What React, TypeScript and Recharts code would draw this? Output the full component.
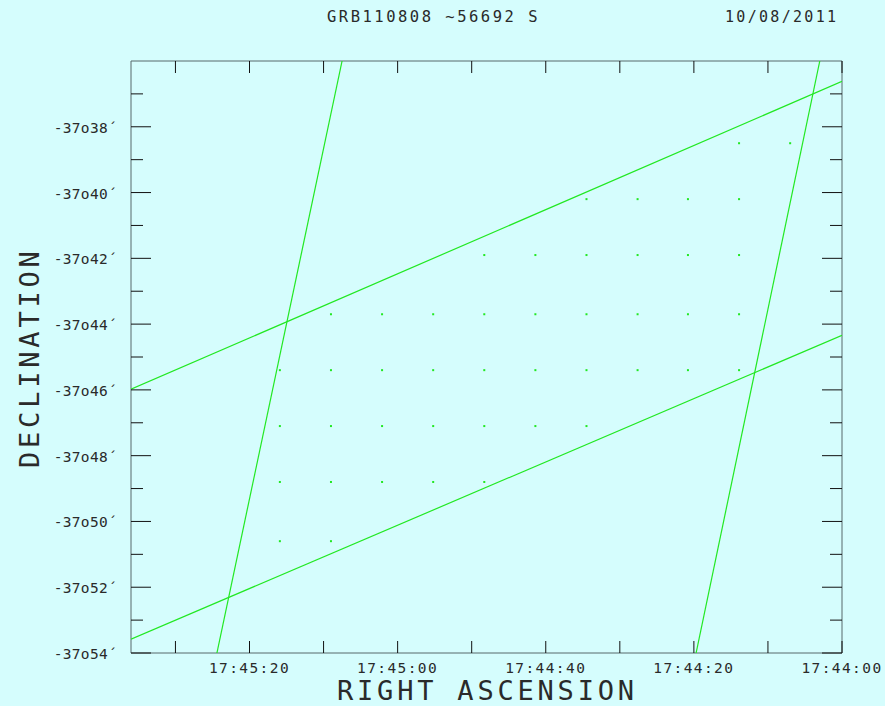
import { ScatterChart, Scatter, XAxis, YAxis } from "recharts";

// RA in seconds past 17:44:00, Dec in arcmin (value = -minutes below -37deg)
const raTicks = [0, 10, 20, 30, 40, 50, 60, 70, 80, 90];
const raLabels: Record<number, string> = {
  0: "17:44:00",
  20: "17:44:20",
  40: "17:44:40",
  60: "17:45:00",
  80: "17:45:20",
};
const decTicks = [-37, -38, -39, -40, -41, -42, -43, -44, -45, -46, -47, -48, -49, -50, -51, -52, -53, -54];
const decLabels: Record<number, string> = {
  [-38]: "-37o38´",
  [-40]: "-37o40´",
  [-42]: "-37o42´",
  [-44]: "-37o44´",
  [-46]: "-37o46´",
  [-48]: "-37o48´",
  [-50]: "-37o50´",
  [-52]: "-37o52´",
  [-54]: "-37o54´",
};

const lineA = [{ ra: 67.5, dec: -36 }, { ra: 84.4, dec: -54 }];
const lineB = [{ ra: 3.0, dec: -36 }, { ra: 19.7, dec: -54 }];
const lineC = [{ ra: 96, dec: -45.98 }, { ra: 0, dec: -36.62 }];
const lineD = [{ ra: 96, dec: -53.58 }, { ra: 0, dec: -44.34 }];

const dots = [
  { ra: 13.9, dec: -38.5 }, { ra: 7.0, dec: -38.5 },
  { ra: 34.5, dec: -40.2 }, { ra: 27.6, dec: -40.2 }, { ra: 20.8, dec: -40.2 }, { ra: 13.9, dec: -40.2 },
  { ra: 48.3, dec: -41.9 }, { ra: 41.4, dec: -41.9 }, { ra: 34.5, dec: -41.9 }, { ra: 27.6, dec: -41.9 },
  { ra: 20.8, dec: -41.9 }, { ra: 13.9, dec: -41.9 },
  { ra: 69.0, dec: -43.7 }, { ra: 62.1, dec: -43.7 }, { ra: 55.2, dec: -43.7 }, { ra: 48.3, dec: -43.7 },
  { ra: 41.4, dec: -43.7 }, { ra: 34.5, dec: -43.7 }, { ra: 27.6, dec: -43.7 }, { ra: 20.8, dec: -43.7 },
  { ra: 13.9, dec: -43.7 },
  { ra: 75.9, dec: -45.4 }, { ra: 69.0, dec: -45.4 }, { ra: 62.1, dec: -45.4 }, { ra: 55.2, dec: -45.4 },
  { ra: 48.3, dec: -45.4 }, { ra: 41.4, dec: -45.4 }, { ra: 34.5, dec: -45.4 }, { ra: 27.6, dec: -45.4 },
  { ra: 20.8, dec: -45.4 }, { ra: 13.9, dec: -45.4 },
  { ra: 75.9, dec: -47.1 }, { ra: 69.0, dec: -47.1 }, { ra: 62.1, dec: -47.1 }, { ra: 55.2, dec: -47.1 },
  { ra: 48.3, dec: -47.1 }, { ra: 41.4, dec: -47.1 }, { ra: 34.5, dec: -47.1 },
  { ra: 75.9, dec: -48.8 }, { ra: 69.0, dec: -48.8 }, { ra: 62.1, dec: -48.8 }, { ra: 55.2, dec: -48.8 },
  { ra: 48.3, dec: -48.8 },
  { ra: 75.9, dec: -50.6 }, { ra: 69.0, dec: -50.6 },
];

const GREEN = "#22e822";
const FRAME = "#56696a";
const INK = "#111";
const TEXT = "#2a2a2a";
const FONT = "DejaVu Sans Mono, monospace";

const BottomTick = ({ x, y, payload }: any) => (
  <g>
    <line x1={x} y1={y} x2={x} y2={y - 12} stroke={INK} />
    {raLabels[payload.value] && (
      <text x={x} y={y + 20} textAnchor="middle" fontFamily={FONT} fontSize={14.5} letterSpacing={1.4} fill={TEXT}>
        {raLabels[payload.value]}
      </text>
    )}
  </g>
);

const TopTick = ({ x, y }: any) => (
  <line x1={x} y1={y} x2={x} y2={y + 12} stroke={INK} />
);

const LeftTick = ({ x, y, payload }: any) => {
  const major = decLabels[payload.value] !== undefined;
  return (
    <g>
      <line x1={x} y1={y} x2={x + (major ? 20 : 12)} y2={y} stroke={INK} />
      {major && (
        <text x={x - 14} y={y + 6} textAnchor="end" fontFamily={FONT} fontSize={14.5} letterSpacing={0.3} fill={TEXT}>
          {decLabels[payload.value]}
        </text>
      )}
    </g>
  );
};

const RightTick = ({ x, y, payload }: any) => {
  const major = decLabels[payload.value] !== undefined;
  return <line x1={x} y1={y} x2={x - (major ? 20 : 12)} y2={y} stroke={INK} />;
};

const Dot = (p: any) => <rect x={p.cx - 1} y={p.cy - 1} width={2} height={2} fill={GREEN} />;
const NoDot = () => <g />;

export default function App() {
  return (
    <div style={{ position: "absolute", left: 0, top: 0, width: 885, height: 706, background: "#d5fdfd" }}>
      <ScatterChart width={885} height={706} margin={{ top: 0, right: 0, bottom: 0, left: 0 }}>
        <XAxis
          xAxisId="b"
          dataKey="ra"
          type="number"
          domain={[0, 96]}
          reversed
          allowDataOverflow
          ticks={raTicks}
          interval={0}
          height={53}
          tickSize={0}
          tickMargin={0}
          tickLine={false}
          axisLine={{ stroke: FRAME }}
          tick={<BottomTick />}
        />
        <XAxis
          xAxisId="t"
          orientation="top"
          dataKey="ra"
          type="number"
          domain={[0, 96]}
          reversed
          allowDataOverflow
          ticks={raTicks}
          interval={0}
          height={61}
          tickSize={0}
          tickMargin={0}
          tickLine={false}
          axisLine={{ stroke: FRAME }}
          tick={<TopTick />}
        />
        <YAxis
          yAxisId="l"
          dataKey="dec"
          type="number"
          domain={[-54, -36]}
          allowDataOverflow
          ticks={decTicks}
          interval={0}
          width={131}
          tickSize={0}
          tickMargin={0}
          tickLine={false}
          axisLine={{ stroke: FRAME }}
          tick={<LeftTick />}
        />
        <YAxis
          yAxisId="r"
          orientation="right"
          dataKey="dec"
          type="number"
          domain={[-54, -36]}
          allowDataOverflow
          ticks={decTicks}
          interval={0}
          width={43}
          tickSize={0}
          tickMargin={0}
          tickLine={false}
          axisLine={{ stroke: FRAME }}
          tick={<RightTick />}
        />
        {[lineA, lineB, lineC, lineD].map((d, i) => (
          <Scatter
            key={i}
            xAxisId="b"
            yAxisId="l"
            data={d}
            line={{ stroke: GREEN, strokeWidth: 1.2 }}
            shape={<NoDot />}
            isAnimationActive={false}
          />
        ))}
        <Scatter xAxisId="b" yAxisId="l" data={dots} shape={<Dot />} isAnimationActive={false} />
      </ScatterChart>
      <svg width={885} height={706} style={{ position: "absolute", left: 0, top: 0, pointerEvents: "none" }}>
        <text x={327} y={22} fontFamily={FONT} fontSize={15.5} letterSpacing={2.5} fill={TEXT}>
          GRB110808 ~56692 S
        </text>
        <text x={725} y={22} fontFamily={FONT} fontSize={15} letterSpacing={2.3} fill={TEXT}>
          10/08/2011
        </text>
        <text x={337} y={700} fontFamily={FONT} fontSize={27} letterSpacing={3.8} fill={TEXT}>
          RIGHT ASCENSION
        </text>
        <text transform="translate(39,468) rotate(-90)" x={0} y={0} fontFamily={FONT} fontSize={27} letterSpacing={3.8} fill={TEXT}>
          DECLINATION
        </text>
      </svg>
    </div>
  );
}
